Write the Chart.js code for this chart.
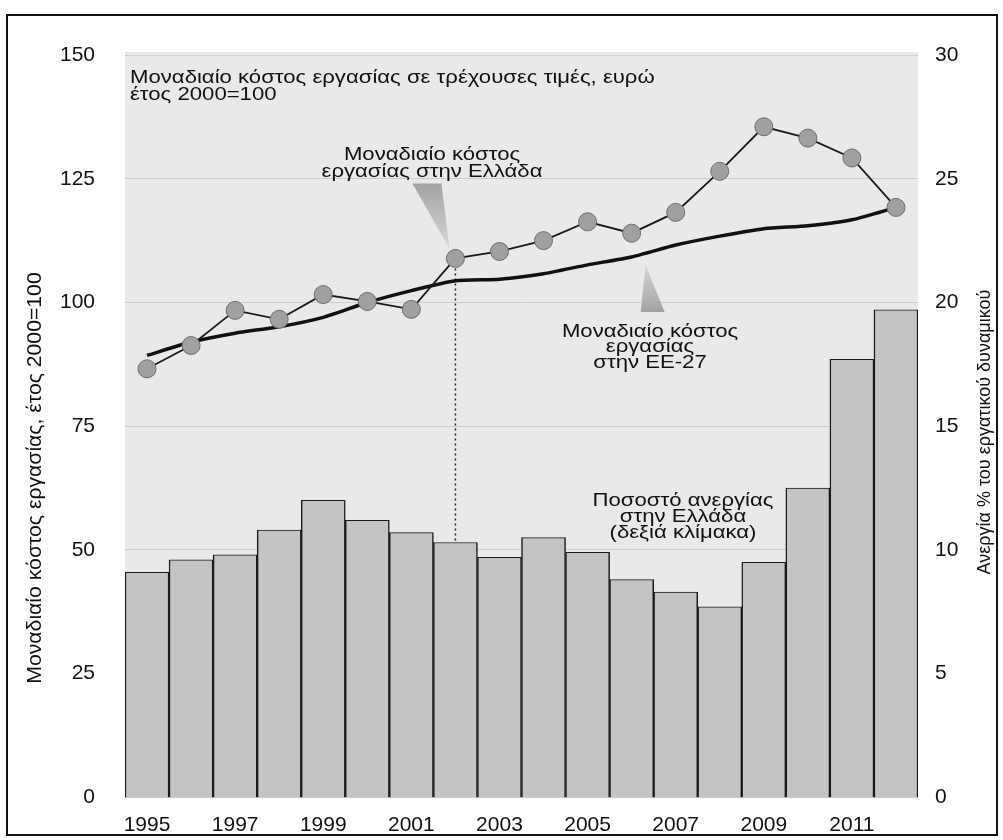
<!DOCTYPE html>
<html>
<head>
<meta charset="utf-8">
<script src="https://cdn.jsdelivr.net/npm/chart.js@4/dist/chart.umd.min.js"></script>
<style>
  html, body { margin: 0; padding: 0; background: #fff; }
  #wrap { width: 1003px; height: 840px; }
</style>
</head>
<body>
<div id="wrap"><canvas id="chart" width="1003" height="840"></canvas></div>
<script>
// data
const years = ['1995', '1996', '1997', '1998', '1999', '2000', '2001', '2002', '2003',
               '2004', '2005', '2006', '2007', '2008', '2009', '2010', '2011', '2012'];
// unit labour cost, Greece (2000=100)
const ulcGreece = [86.6, 91.3, 98.4, 96.6, 101.6, 100.2, 98.6, 108.9, 110.3,
                   112.5, 116.3, 114.0, 118.2, 126.5, 135.5, 133.2, 129.2, 119.2];
// unit labour cost, EU-27 (2000=100)
const ulcEU = [89.3, 92.0, 93.8, 95.1, 97.0, 100.0, 102.4, 104.4, 104.7,
               105.8, 107.6, 109.2, 111.6, 113.4, 114.9, 115.5, 116.7, 119.2];
// unemployment rate Greece, % (right scale)
const unemployment = [9.1, 9.6, 9.8, 10.8, 12.0, 11.2, 10.7, 10.3, 9.7,
                      10.5, 9.9, 8.8, 8.3, 7.7, 9.5, 12.5, 17.7, 19.7];
const leftTicks = [0, 25, 50, 75, 100, 125, 150];
const rightTicks = [0, 5, 10, 15, 20, 25, 30];

const FONT = "'Liberation Sans', Arial, sans-serif";

// the scanned lettering is wider than Arial, so stretch it a bit
function wideText(ctx, text, x, y, sx) {
    ctx.save();
    ctx.translate(x, y);
    ctx.scale(sx, 1);
    ctx.fillText(text, 0, 0);
    ctx.restore();
}

const decorations = {
    id: 'decorations',
    beforeDraw(chart) {
        const ctx = chart.ctx;
        const a = chart.chartArea;
        ctx.save();
        ctx.fillStyle = '#ffffff';
        ctx.fillRect(0, 0, chart.width, chart.height);
        // outer frame
        ctx.strokeStyle = '#111';
        ctx.lineWidth = 2;
        ctx.strokeRect(7, 15, 990, 820);
        // plot background
        ctx.fillStyle = '#e9e9e9';
        ctx.fillRect(a.left, a.top - 3, a.right - a.left, a.bottom - a.top + 3);
        ctx.restore();
    },
    beforeDatasetsDraw(chart) {
        const ctx = chart.ctx;
        const x = chart.scales.x;
        const y = chart.scales.y;
        // dotted guide under the 2002 point
        const i = years.indexOf('2002');
        const px = x.getPixelForValue(i);
        ctx.save();
        ctx.strokeStyle = '#222';
        ctx.lineWidth = 1.5;
        ctx.setLineDash([2, 3]);
        ctx.beginPath();
        ctx.moveTo(px, y.getPixelForValue(ulcGreece[i]));
        ctx.lineTo(px, y.getPixelForValue(0));
        ctx.stroke();
        ctx.restore();
    },
    afterDraw(chart) {
        const ctx = chart.ctx;
        const a = chart.chartArea;
        const x = chart.scales.x;
        const y = chart.scales.y;
        ctx.save();
        ctx.fillStyle = '#111';

        // axis titles
        ctx.textAlign = 'center';
        ctx.textBaseline = 'middle';
        ctx.font = '20px ' + FONT;
        ctx.save();
        ctx.translate(35, 478);
        ctx.rotate(-Math.PI / 2);
        wideText(ctx, 'Μοναδιαίο κόστος εργασίας, έτος 2000=100', 0, 0, 1.06);
        ctx.restore();
        ctx.font = '18px ' + FONT;
        ctx.save();
        ctx.translate(985, 432);
        ctx.rotate(-Math.PI / 2);
        ctx.fillText('Ανεργία % του εργατικού δυναμικού', 0, 0);
        ctx.restore();

        // pointers
        const i2 = years.indexOf('2002');
        const gx = x.getPixelForValue(i2);
        const gy = y.getPixelForValue(ulcGreece[i2]) - 10;
        let grad = ctx.createLinearGradient(0, gy - 65, 0, gy);
        grad.addColorStop(0, '#a3a3a3');
        grad.addColorStop(1, '#d6d6d6');
        ctx.fillStyle = grad;
        ctx.beginPath();
        ctx.moveTo(gx - 43, gy - 65);
        ctx.lineTo(gx - 14, gy - 65);
        ctx.lineTo(gx - 6, gy);
        ctx.closePath();
        ctx.fill();

        const i6 = years.indexOf('2006');
        const ex = x.getPixelForValue(i6) + 14;
        const ey = y.getPixelForValue(ulcEU[i6]) + 8;
        grad = ctx.createLinearGradient(0, ey, 0, ey + 47);
        grad.addColorStop(0, '#d6d6d6');
        grad.addColorStop(1, '#a3a3a3');
        ctx.fillStyle = grad;
        ctx.beginPath();
        ctx.moveTo(ex, ey);
        ctx.lineTo(ex - 5, ey + 47);
        ctx.lineTo(ex + 19, ey + 47);
        ctx.closePath();
        ctx.fill();

        // annotations
        ctx.fillStyle = '#111';
        ctx.font = '18px ' + FONT;
        const sx = 1.23;
        ctx.textAlign = 'left';
        wideText(ctx, 'Μοναδιαίο κόστος εργασίας σε τρέχουσες τιμές, ευρώ', a.left + 5, 78, sx);
        wideText(ctx, 'έτος 2000=100', a.left + 5, 95, sx);

        ctx.textAlign = 'center';
        wideText(ctx, 'Μοναδιαίο κόστος', 432, 155, sx);
        wideText(ctx, 'εργασίας στην Ελλάδα', 432, 172, sx);

        wideText(ctx, 'Μοναδιαίο κόστος', 650, 332, sx);
        wideText(ctx, 'εργασίας', 650, 347, sx);
        wideText(ctx, 'στην ΕΕ-27', 650, 363, sx);

        wideText(ctx, 'Ποσοστό ανεργίας', 683, 501, sx);
        wideText(ctx, 'στην Ελλάδα', 683, 517, sx);
        wideText(ctx, '(δεξιά κλίμακα)', 683, 533, sx);
        ctx.restore();
    }
};

new Chart(document.getElementById('chart').getContext('2d'), {
    data: {
        labels: years,
        datasets: [
            {
                type: 'line',
                label: 'Μοναδιαίο κόστος εργασίας στην Ελλάδα',
                data: ulcGreece,
                yAxisID: 'y',
                borderColor: '#1a1a1a',
                borderWidth: 1.8,
                pointRadius: 9,
                pointBackgroundColor: '#a0a0a0',
                pointBorderColor: '#6e6e6e',
                pointBorderWidth: 1,
                tension: 0,
                order: 1
            },
            {
                type: 'line',
                label: 'Μοναδιαίο κόστος εργασίας στην ΕΕ-27',
                data: ulcEU,
                yAxisID: 'y',
                borderColor: '#111',
                borderWidth: 3.5,
                pointRadius: 0,
                tension: 0.2,
                order: 2
            },
            {
                type: 'bar',
                label: 'Ποσοστό ανεργίας στην Ελλάδα',
                data: unemployment,
                yAxisID: 'y2',
                backgroundColor: '#c4c4c4',
                borderColor: '#1a1a1a',
                borderWidth: { top: 1, left: 1.5, right: 1.5, bottom: 0 },
                borderSkipped: false,
                barPercentage: 1,
                categoryPercentage: 1,
                order: 3
            }
        ]
    },
    options: {
        responsive: false,
        animation: false,
        events: [],
        layout: { padding: { left: 10, right: 10, top: 55, bottom: 5 } },
        plugins: {
            legend: { display: false },
            tooltip: { enabled: false }
        },
        scales: {
            x: {
                grid: { display: false },
                border: { display: false },
                ticks: {
                    color: '#111',
                    font: { family: FONT, size: 21 },
                    padding: 7,
                    autoSkip: false,
                    maxRotation: 0,
                    callback: (v, i) => (i % 2 === 0 ? years[i] : '')
                },
                afterFit: (s) => { s.height = 35; }
            },
            y: {
                position: 'left',
                min: leftTicks[0],
                max: leftTicks[leftTicks.length - 1],
                afterBuildTicks: (s) => { s.ticks = leftTicks.map(v => ({ value: v })); },
                grid: { color: '#cdcdcd', lineWidth: 1, drawTicks: false },
                border: { display: false },
                ticks: {
                    color: '#111',
                    font: { family: FONT, size: 21 },
                    padding: 30
                },
                afterFit: (s) => { s.width = 115; }
            },
            y2: {
                position: 'right',
                min: rightTicks[0],
                max: rightTicks[rightTicks.length - 1],
                afterBuildTicks: (s) => { s.ticks = rightTicks.map(v => ({ value: v })); },
                grid: { display: false, drawTicks: false },
                border: { display: false },
                ticks: {
                    color: '#111',
                    font: { family: FONT, size: 21 },
                    padding: 17
                },
                afterFit: (s) => { s.width = 75; }
            }
        }
    },
    plugins: [decorations]
});
</script>
</body>
</html>
